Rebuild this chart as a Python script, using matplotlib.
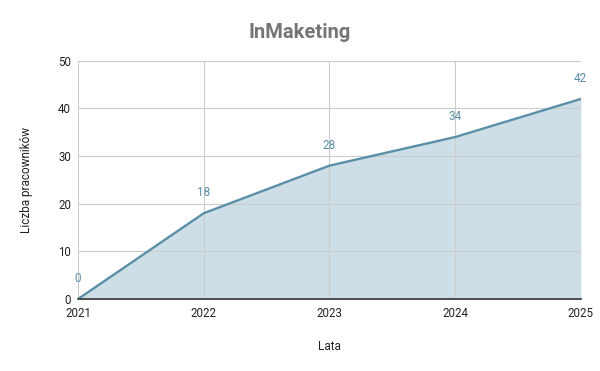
import matplotlib.pyplot as plt

years = [2021, 2022, 2023, 2024, 2025]
employees = [0, 18, 28, 34, 42]
yticks = [0, 10, 20, 30, 40, 50]

lineColor = '#5b8fa8'
fillColor = '#cddee6'

plt.rcParams['font.family'] = ['Roboto', 'DejaVu Sans']

fig = plt.figure(figsize=(6, 3.71), dpi=100)
ax = fig.add_axes([0.13, 0.194, 0.838, 0.642])

ax.fill_between(years, employees, 0, color=fillColor, lw=0, zorder=1)
ax.plot(years, employees, color=lineColor, lw=1.7, zorder=3)

# data labels above points
for x, y in zip(years, employees):
    ax.annotate(str(y), (x, y), xytext=(0, 10), textcoords='offset points',
                ha='center', va='bottom', color=lineColor, fontsize=8.5)

ax.set_xlim(2021, 2025)
ax.set_ylim(0, 50)
ax.set_xticks(years)
ax.set_yticks(yticks)
ax.grid(True, color='#cccccc', lw=0.8, zorder=2)
ax.set_axisbelow(False)
ax.tick_params(length=0, labelsize=8.3, colors='#222222')
ax.tick_params(axis='x', pad=5.5)
ax.tick_params(axis='y', pad=5)

for side in ['top', 'right', 'left']:
    ax.spines[side].set_visible(False)
ax.spines['bottom'].set_color('#333333')
ax.spines['bottom'].set_linewidth(1.2)
ax.spines['bottom'].set_zorder(4)

ax.set_xlabel('Lata', fontsize=8.5, color='#222222', labelpad=15)
ax.set_ylabel('Liczba pracowników', fontsize=8.5, color='#222222', labelpad=18)
fig.suptitle('InMaketing', fontsize=14.5, fontweight='bold', color='#757575', y=0.937)

plt.savefig('out.png', dpi=100)
